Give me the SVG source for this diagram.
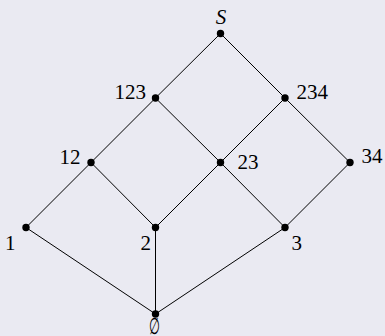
<svg xmlns="http://www.w3.org/2000/svg" width="385" height="336" viewBox="0 0 385 336">
<style>
.e{stroke:#000;stroke-width:1;fill:none}
.d{fill:#000}
.t{font-family:"Liberation Serif","DejaVu Serif",serif;font-size:21px;fill:#000}
.i{font-style:italic}
</style>
<rect width="385" height="336" fill="#eaeaf2"/>
<g id="edges" class="e">
<line x1="220.5" y1="33.5" x2="155.5" y2="98"/>
<line x1="220.5" y1="33.5" x2="285" y2="98"/>
<line x1="155.5" y1="98" x2="91" y2="162.5"/>
<line x1="155.5" y1="98" x2="220.5" y2="162.5"/>
<line x1="285" y1="98" x2="220.5" y2="162.5"/>
<line x1="285" y1="98" x2="350" y2="162.5"/>
<line x1="91" y1="162.5" x2="26" y2="227.5"/>
<line x1="91" y1="162.5" x2="155.5" y2="227.5"/>
<line x1="220.5" y1="162.5" x2="155.5" y2="227.5"/>
<line x1="220.5" y1="162.5" x2="285" y2="227.5"/>
<line x1="350" y1="162.5" x2="285" y2="227.5"/>
<line x1="26" y1="227.5" x2="155.5" y2="314"/>
<line x1="155.5" y1="227.5" x2="155.5" y2="314"/>
<line x1="285" y1="227.5" x2="155.5" y2="314"/>
</g>
<g id="S"><circle class="d" cx="220.5" cy="33.5" r="3.7"/><text class="t i" x="221" y="24" text-anchor="middle">S</text></g>
<g id="n123"><circle class="d" cx="155.5" cy="98" r="3.7"/><text class="t" x="146" y="98.5" text-anchor="end">123</text></g>
<g id="n234"><circle class="d" cx="285" cy="98" r="3.7"/><text class="t" x="296.5" y="98.5">234</text></g>
<g id="n12"><circle class="d" cx="91" cy="162.5" r="3.7"/><text class="t" x="80.5" y="163.5" text-anchor="end">12</text></g>
<g id="n23"><circle class="d" cx="220.5" cy="162.5" r="3.7"/><text class="t" x="237.5" y="168.5">23</text></g>
<g id="n34"><circle class="d" cx="350" cy="162.5" r="3.7"/><text class="t" x="361.5" y="162.5">34</text></g>
<g id="n1"><circle class="d" cx="26" cy="227.5" r="3.7"/><text class="t" x="15.5" y="249.5" text-anchor="end">1</text></g>
<g id="n2"><circle class="d" cx="155.5" cy="227.5" r="3.7"/><text class="t" x="151" y="249.5" text-anchor="end">2</text></g>
<g id="n3"><circle class="d" cx="285" cy="227.5" r="3.7"/><text class="t" x="291.5" y="249.5">3</text></g>
<g id="empty"><circle class="d" cx="155.5" cy="314" r="3.7"/><text class="t" transform="translate(155 334) scale(0.6 1.1)" text-anchor="middle">∅</text></g>
</svg>
